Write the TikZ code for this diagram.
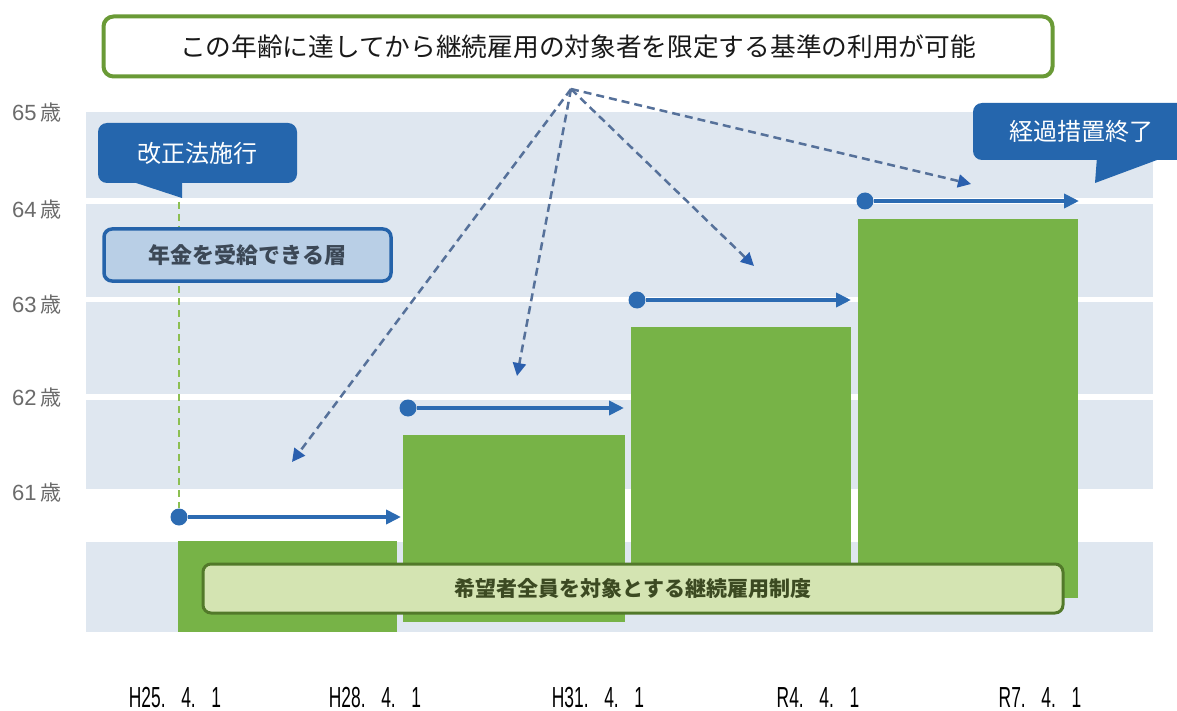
\documentclass[tikz,border=0pt]{standalone}
\usepackage{fontspec}
\setmainfont{Noto Sans CJK JP}
\newfontfamily\latinfnt{Liberation Sans}
\usetikzlibrary{arrows.meta}
\definecolor{bandc}{HTML}{DFE7F0}
\definecolor{barc}{HTML}{77B347}
\definecolor{arrc}{HTML}{2C6BB2}
\definecolor{dashc}{HTML}{56719A}
\definecolor{dtipc}{HTML}{2A5FAE}
\definecolor{calc}{HTML}{2566AD}
\definecolor{topc}{HTML}{6A9A36}
\definecolor{botfill}{HTML}{D4E4B2}
\definecolor{botdraw}{HTML}{52792A}
\definecolor{bottext}{HTML}{3C4A22}
\definecolor{nenfill}{HTML}{B9CFE6}
\definecolor{nendraw}{HTML}{2563AA}
\definecolor{nentext}{HTML}{3C4856}
\definecolor{gdashc}{HTML}{8CBF52}
\definecolor{ygray}{HTML}{6B6B6B}
\newcommand{\agelab}[1]{{\latinfnt\fontsize{22}{24}\selectfont #1}\hspace{4pt}{\fontsize{21}{24}\selectfont 歳}}
\begin{document}
\begin{tikzpicture}[x=1pt,y=-1pt,
  darr/.style={draw=dashc,line width=2.5pt,dash pattern=on 8pt off 5pt,
    -{Triangle[length=13pt,width=13pt,fill=dtipc,color=dtipc]}},
  barr/.style={draw=arrc,line width=4pt,-{Triangle[length=15pt,width=14pt]}},
  dotnode/.style={circle,fill=arrc,inner sep=0pt,minimum size=17pt},
  topbox/.style={draw=topc,fill=white,line width=4pt,rounded corners=10pt,
    minimum width=949pt,minimum height=60pt,inner sep=0pt,
    font=\fontsize{25.7}{30}\selectfont,text=black!90},
  botbox/.style={draw=botdraw,fill=botfill,line width=3pt,rounded corners=8pt,
    minimum width=860pt,minimum height=49pt,inner sep=0pt,
    font=\bfseries\fontsize{21}{25}\selectfont,text=bottext},
  nenbox/.style={draw=nendraw,fill=nenfill,line width=3.5pt,rounded corners=8pt,
    minimum width=287pt,minimum height=52pt,inner sep=0pt,
    font=\bfseries\fontsize{22}{26}\selectfont,text=nentext},
  callbox/.style={fill=calc,draw=none,rounded corners=9pt,inner sep=0pt,
    font=\fontsize{24}{28}\selectfont,text=white},
  ylab/.style={anchor=west,inner sep=0pt,text=ygray},
  xlab/.style={anchor=base,inner sep=0pt,text=black,font=\latinfnt\fontsize{29}{31}\selectfont}
]
\useasboundingbox (0,0) rectangle (1177,711);
\fill[white] (0,0) rectangle (1177,711);
% background bands
\foreach \a/\b in {112/198,204/297,302/394,400/489,542/632}
  \fill[bandc] (86,\a) rectangle (1153,\b);
% green dashed vertical line
\draw[gdashc,line width=2pt,dash pattern=on 7pt off 5pt] (179,190) -- (179,508);
% green bars
\fill[barc] (178,541) rectangle (397,632);
\fill[barc] (403,435) rectangle (625,622);
\fill[barc] (631,327) rectangle (851,610);
\fill[barc] (858,219) rectangle (1078,598);
% bottom box
\node[botbox] (hope) at (633,588.5) {希望者全員を対象とする継続雇用制度};
% blue arrows
\node[dotnode] (d1) at (179,517) {};
\node[dotnode] (d2) at (408,408) {};
\node[dotnode] (d3) at (637,300) {};
\node[dotnode] (d4) at (865,201) {};
\coordinate (e1) at (401,517);
\coordinate (e2) at (624,408);
\coordinate (e3) at (851,300);
\coordinate (e4) at (1079,201);
\draw[barr] (d1) -- (e1);
\draw[barr] (d2) -- (e2);
\draw[barr] (d3) -- (e3);
\draw[barr] (d4) -- (e4);
% pension box
\node[nenbox] (nen) at (247.5,255) {年金を受給できる層};
% callouts
\fill[calc] (127,180) -- (182,198) -- (182,180) -- cycle;
\node[callbox,minimum width=199pt,minimum height=60pt] (law) at (197.5,153) {改正法施行};
\fill[calc] (1097,157) -- (1095,183) -- (1165,157) -- cycle;
\node[callbox,minimum width=217pt,minimum height=57pt] (end) at (1081.5,131.5) {経過措置終了};
% top box
\node[topbox] (top) at (578,46.5) {この年齢に達してから継続雇用の対象者を限定する基準の利用が可能};
% dashed arrows
\coordinate (src) at (571,89);
\coordinate (t1) at (292,462);
\coordinate (t2) at (517,376);
\coordinate (t3) at (754,266);
\coordinate (t4) at (971,184);
\draw[darr] (src) -- (t1);
\draw[darr] (src) -- (t2);
\draw[darr] (src) -- (t3);
\draw[darr] (src) -- (t4);
% y labels
\node[ylab] (y65) at (12,113) {\agelab{65}};
\node[ylab] (y64) at (12,210) {\agelab{64}};
\node[ylab] (y63) at (12,305) {\agelab{63}};
\node[ylab] (y62) at (12,398) {\agelab{62}};
\node[ylab] (y61) at (12,493) {\agelab{61}};
% x labels
\node[xlab] (x1) at (175,707) {\scalebox{0.6}[1]{H25.\hspace{0.9em}4.\hspace{0.9em}1}};
\node[xlab] (x2) at (375,707) {\scalebox{0.6}[1]{H28.\hspace{0.9em}4.\hspace{0.9em}1}};
\node[xlab] (x3) at (598,707) {\scalebox{0.6}[1]{H31.\hspace{0.9em}4.\hspace{0.9em}1}};
\node[xlab] (x4) at (818,707) {\scalebox{0.6}[1]{R4.\hspace{0.9em}4.\hspace{0.9em}1}};
\node[xlab] (x5) at (1040,707) {\scalebox{0.6}[1]{R7.\hspace{0.9em}4.\hspace{0.9em}1}};
\end{tikzpicture}
\end{document}
